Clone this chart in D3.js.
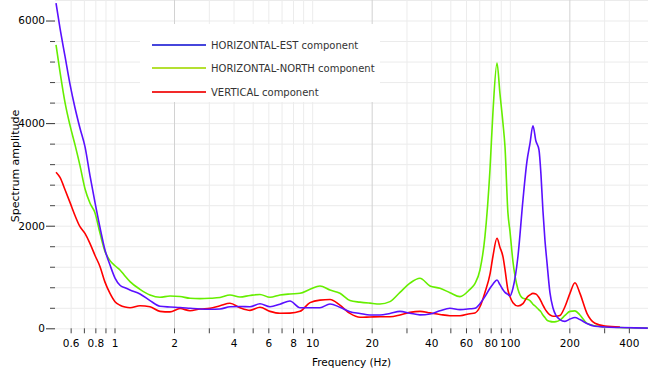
<!DOCTYPE html>
<html><head><meta charset="utf-8">
<script src="https://cdn.jsdelivr.net/npm/d3@7"></script>
<style>
body{margin:0;background:#fff}
svg{display:block}
text{font-family:"DejaVu Sans",sans-serif}
</style>
</head><body>
<svg id="c" width="648" height="372"></svg>
<script>
// ---- data ----
const frequencies = [0.506,0.53,0.562,0.596,0.631,0.669,0.709,0.752,0.797,0.845,
  0.895,0.949,1.006,1.066,1.13,1.198,1.346,1.512,1.699,1.909,
  2.145,2.41,2.707,3.042,3.418,3.839,4.314,4.847,5.445,6.117,
  6.873,7.722,8.676,9.747,10.95,12.31,13.82,15.53,17.45,19.61,
  22.03,24.75,27.81,31.24,35.1,39.44,44.31,49.78,55.93,62.84,
  66.6,70.6,74.83,79.32,82.1,86.1,89.1,92.3,94.5,97.8,
  100.1,103.7,109.9,116.5,122.0,126.4,130.9,135.5,140.4,143.7,
  147.0,150.5,154.0,159.5,165.2,171.1,179.2,190.0,201.4,213.5,
  226.3,245.5,269.5,302.7,360.6,429.3,499];

const horizontalEst = [6340,5850,5300,4750,4300,3900,3540,2970,2450,1960,
  1527,1234,980,840,790,747,670,540,430,415,
  405,390,376,371,376,420,425,420,480,421,
  470,532,402,400,402,474,410,324,290,259,
  259,290,330,295,262,279,343,390,365,380,
  390,480,617,780,860,942,850,750,700,660,
  630,780,1400,2500,3250,3600,3950,3650,3480,3000,
  2300,1720,1300,700,400,250,170,135,180,210,
  170,95,40,25,15,8,3];

const horizontalNorth = [5524,5000,4400,3950,3580,3170,2720,2437,2250,1850,
  1500,1320,1220,1137,1020,909,760,649,604,630,
  620,585,578,585,600,649,610,640,660,604,
  650,670,682,760,825,745,682,540,510,490,
  474,520,700,880,975,825,780,694,617,760,
  870,1137,1786,3087,4200,5170,4580,4000,3541,2250,
  1900,1300,760,585,570,540,470,420,360,320,
  260,210,160,135,125,130,160,250,330,340,
  260,95,50,30,15,8,3];

const vertical = [3042,2940,2700,2450,2200,1980,1850,1650,1420,1201,
  900,680,519,450,415,400,440,420,330,320,
  385,343,376,390,440,487,400,350,410,330,
  292,295,330,500,550,560,450,290,214,220,
  226,226,260,310,330,300,270,246,245,285,
  300,420,700,1050,1400,1755,1580,1396,1150,747,
  620,500,435,480,600,650,680,670,600,530,
  450,380,324,260,235,235,250,420,680,889,
  680,292,98,45,26,null,null];

const seriesNames = ["HORIZONTAL-EST component","HORIZONTAL-NORTH component","VERTICAL component"];
const seriesColors = ["#5a10ff","#66ee00","#ff0000"];
const legendColors = ["#4646dc","#b4e032","#f22a2a"];

const xTickValues = [0.6,0.7,0.8,0.9,1,2,3,4,5,6,7,8,9,10,20,30,40,50,60,70,80,90,100,200,300,400];
const xTickLabels = [0.6,0.8,1,2,4,6,8,10,20,40,60,80,100,200,400];
const yTickValues = [0,400,800,1200,1600,2000,2400,2800,3200,3600,4000,4400,4800,5200,5600,6000,6400];
const yTickLabels = [0,2000,4000,6000];

// ---- chart ----
const L = 55, R = 648, B = 328.3, T = 0;
const svg = d3.select("#c");
const x = d3.scaleLog().domain([0.5, 500]).range([L, R]);
const y = d3.scaleLinear().domain([0, 6400]).range([B, T]);

// grid
const gy = svg.append("g").attr("transform", `translate(${L},0)`)
  .call(d3.axisLeft(y).tickValues(yTickValues).tickSize(-(R - L)).tickFormat(""));
gy.select(".domain").remove();
gy.selectAll("line").attr("stroke", "#ebebeb");

const gx = svg.append("g").attr("transform", `translate(0,${B})`)
  .call(d3.axisBottom(x).tickValues(xTickValues).tickSize(-(B - T)).tickFormat(""));
gx.select(".domain").remove();
gx.selectAll("line").attr("stroke", d => [2,20,200].includes(d) ? "#d2d2d2" : "#ececec");

// series
svg.append("clipPath").attr("id","clip").append("rect")
  .attr("x", L).attr("y", 0).attr("width", R - L).attr("height", B + 1);
const line = d3.line()
  .defined(d => d[1] != null)
  .x(d => x(d[0])).y(d => y(d[1]))
  .curve(d3.curveMonotoneX);
const seriesData = [horizontalEst, horizontalNorth, vertical];
const drawOrder = [1, 2, 0];
const gl = svg.append("g").attr("clip-path", "url(#clip)");
drawOrder.forEach(i => {
  gl.append("path")
    .datum(frequencies.map((f, k) => [f, seriesData[i][k]]))
    .attr("fill", "none")
    .attr("stroke", seriesColors[i])
    .attr("stroke-width", 1.6)
    .attr("stroke-linejoin", "round")
    .attr("d", line);
});

// y axis ticks
const yMinor = svg.append("g").attr("transform", `translate(${L},0)`)
  .call(d3.axisLeft(y).tickValues(yTickValues.filter(v => !yTickLabels.includes(v) && v <= 6000)).tickSize(5).tickFormat(""));
yMinor.select(".domain").remove();
yMinor.selectAll("line").attr("stroke", "#444");

const yMajor = svg.append("g").attr("transform", `translate(${L},0)`)
  .call(d3.axisLeft(y).tickValues(yTickLabels).tickSize(9).tickPadding(1).tickFormat(d3.format("d")));
yMajor.select(".domain").remove();
yMajor.selectAll("line").attr("stroke", "#333");
yMajor.selectAll("text").attr("font-size", 10.5).attr("fill", "#000").attr("font-family", '"DejaVu Sans",sans-serif');

// x axis ticks
const xa = svg.append("g").attr("transform", `translate(0,${B})`)
  .call(d3.axisBottom(x).tickValues(xTickValues).tickSize(5).tickPadding(6)
    .tickFormat(d => xTickLabels.includes(d) ? String(d) : ""));
xa.select(".domain").remove();
xa.selectAll("line").attr("stroke", "#444");
xa.selectAll("text").attr("font-size", 10.5).attr("fill", "#000").attr("font-family", '"DejaVu Sans",sans-serif');

// titles
svg.append("text").attr("x", (L + R) / 2).attr("y", 366).attr("text-anchor", "middle")
  .attr("font-size", 10.5).attr("fill", "#000").text("Frequency (Hz)");
svg.append("text").attr("transform", "translate(19,166) rotate(-90)").attr("text-anchor", "middle")
  .attr("font-size", 11).attr("fill", "#000").text("Spectrum amplitude");

// legend
const lg = svg.append("g");
lg.append("rect").attr("x", 140).attr("y", 24).attr("width", 240).attr("height", 78).attr("fill", "#fff");
const legendY = [45, 68, 92];
seriesNames.forEach((n, i) => {
  lg.append("line").attr("x1", 152).attr("x2", 206).attr("y1", legendY[i]).attr("y2", legendY[i])
    .attr("stroke", legendColors[i]).attr("stroke-width", 2);
  lg.append("text").attr("x", 211).attr("y", legendY[i]).attr("dy", "0.35em")
    .attr("font-size", 10).attr("fill", "#333").text(n);
});
</script>
</body></html>
